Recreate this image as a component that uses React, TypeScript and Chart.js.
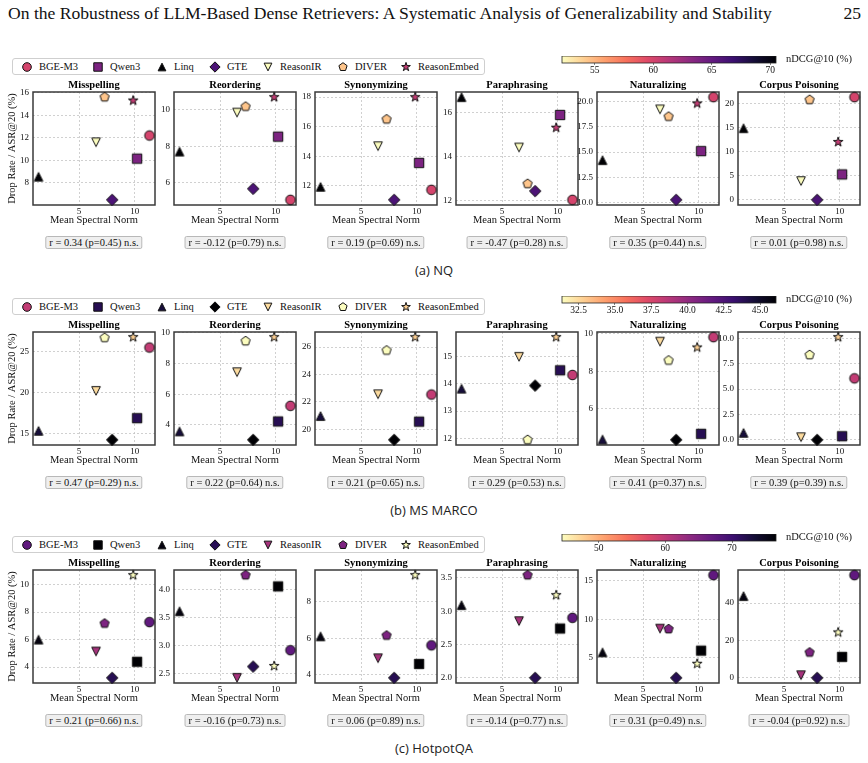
import React, { useEffect, useRef } from "react";
import { Chart, registerables } from "chart.js";
Chart.register(...registerables);

const SERIF = '"Liberation Serif", "Times New Roman", Times, serif';
const SANS = '"Open Sans", "DejaVu Sans", sans-serif';

// ---------------- data ----------------
const models = ["BGE-M3", "Qwen3", "Linq", "GTE", "ReasonIR", "DIVER", "ReasonEmbed"];
const perturbations = ["Misspelling", "Reordering", "Synonymizing", "Paraphrasing", "Naturalizing", "Corpus Poisoning"];
const meanSpectralNorm = [11.31, 10.2, 1.37, 7.97, 6.52, 7.29, 9.85];
const spectralTicks = [5, 10];

// (a) NQ
const nqNdcg = [60.0, 63.9, 70.5, 66.1, 52.2, 54.4, 60.8];
const nqMisspelling = [12.2, 10.15, 8.55, 6.5, 11.6, 15.6, 15.3];
const nqReordering = [5.06, 8.53, 7.71, 5.67, 9.85, 10.18, 10.7];
const nqSynonymizing = [11.73, 13.55, 11.93, 11.05, 14.68, 16.5, 18.0];
const nqParaphrasing = [12.03, 15.89, 16.7, 12.43, 14.41, 12.76, 15.31];
const nqNaturalizing = [20.46, 15.1, 14.2, 10.26, 19.24, 18.53, 19.83];
const nqCorpusPoisoning = [21.31, 5.28, 14.86, 0.0, 3.89, 20.76, 12.0];
const nqYTicks = [[8, 10, 12, 14, 16], [6, 8, 10], [12, 14, 16, 18], [12, 14, 16], [10, 12.5, 15, 17.5, 20], [0, 5, 10, 15, 20]];
const nqR = [0.34, -0.12, 0.19, -0.47, 0.35, 0.01];
const nqP = [0.45, 0.79, 0.69, 0.28, 0.44, 0.98];
const nqColorTicks = [55, 60, 65, 70];

// (b) MS MARCO
const msNdcg = [38.3, 43.9, 44.5, 46.1, 32.4, 31.35, 32.8];
const msMisspelling = [25.53, 16.85, 15.29, 14.18, 20.2, 26.73, 26.81];
const msReordering = [5.24, 4.22, 3.57, 3.02, 7.43, 9.46, 9.72];
const msSynonymizing = [22.54, 20.56, 20.97, 19.23, 22.56, 25.76, 26.73];
const msParaphrasing = [14.32, 14.49, 13.82, 13.93, 14.98, 11.95, 15.7];
const msNaturalizing = [9.82, 4.67, 4.37, 4.35, 9.58, 8.58, 9.27];
const msCorpusPoisoning = [6.05, 0.36, 0.69, 0.0, 0.26, 8.35, 10.1];
const msYTicks = [[15, 20, 25], [4, 6, 8, 10], [20, 22, 24, 26], [12, 13, 14, 15], [6, 8, 10], [0, 2.5, 5, 7.5, 10]];
const msR = [0.47, 0.22, 0.21, 0.29, 0.41, 0.39];
const msP = [0.29, 0.64, 0.65, 0.53, 0.37, 0.39];
const msColorTicks = [32.5, 35, 37.5, 40, 42.5, 45];

// (c) HotpotQA
const hpNdcg = [67.3, 76.6, 75.8, 71.8, 61.8, 65.0, 44.5];
const hpMisspelling = [7.27, 4.39, 6.0, 3.22, 5.13, 7.17, 10.68];
const hpReordering = [2.92, 4.05, 3.61, 2.63, 2.43, 4.25, 2.64];
const hpSynonymizing = [5.62, 4.6, 6.11, 3.84, 4.91, 6.16, 9.46];
const hpParaphrasing = [2.9, 2.74, 3.09, 2.0, 2.85, 3.54, 3.24];
const hpNaturalizing = [15.74, 5.92, 5.7, 2.38, 8.78, 8.73, 4.21];
const hpCorpusPoisoning = [54.9, 11.2, 43.7, 0.0, 1.4, 13.6, 24.3];
const hpYTicks = [[4, 6, 8, 10], [2.5, 3, 3.5, 4], [4, 6, 8], [2, 2.5, 3, 3.5], [5, 10, 15], [0, 20, 40]];
const hpR = [0.21, -0.16, 0.06, -0.14, 0.31, -0.04];
const hpP = [0.66, 0.73, 0.89, 0.77, 0.49, 0.92];
const hpColorTicks = [50, 60, 70];

type RowData = {
  caption: string;
  ndcg: number[];
  drops: number[][];
  yTicks: number[][];
  r: number[];
  p: number[];
  cbTicks: number[];
};

const ROWS: RowData[] = [
  {
    caption: "(a) NQ", ndcg: nqNdcg,
    drops: [nqMisspelling, nqReordering, nqSynonymizing, nqParaphrasing, nqNaturalizing, nqCorpusPoisoning],
    yTicks: nqYTicks, r: nqR, p: nqP, cbTicks: nqColorTicks,
  },
  {
    caption: "(b) MS MARCO", ndcg: msNdcg,
    drops: [msMisspelling, msReordering, msSynonymizing, msParaphrasing, msNaturalizing, msCorpusPoisoning],
    yTicks: msYTicks, r: msR, p: msP, cbTicks: msColorTicks,
  },
  {
    caption: "(c) HotpotQA", ndcg: hpNdcg,
    drops: [hpMisspelling, hpReordering, hpSynonymizing, hpParaphrasing, hpNaturalizing, hpCorpusPoisoning],
    yTicks: hpYTicks, r: hpR, p: hpP, cbTicks: hpColorTicks,
  },
];

// ---------------- layout / style ----------------
const PLOT_LEFTS = [33, 174, 315, 456, 597, 738];
const PLOT_W = 122;
const ROW_TOPS = [92, 332, 570];
const PLOT_H = 113;
const Y_AXIS_W = 30;
const RIGHT_PAD = 8;
const TITLE_H = 16;
const XAXIS_H = 23;
const LEGEND_MARKER_X = [27, 98, 162, 215, 268, 343, 406];
const MARKER_SHAPES = ["circle", "square", "triUp", "diamond", "triDown", "pentagon", "star"];
const CB_LEFT = 562;
const CB_W = 214;

const MAGMA = ["#000004", "#140e36", "#3b0f70", "#641a80", "#8c2981", "#b73779", "#de4968", "#f7705c", "#fe9f6d", "#fecf92", "#fcfdbf"];
function hexRgb(h: string) {
  return [parseInt(h.slice(1, 3), 16), parseInt(h.slice(3, 5), 16), parseInt(h.slice(5, 7), 16)];
}
function magma(t: number): string {
  t = Math.max(0, Math.min(1, t));
  const p = t * (MAGMA.length - 1);
  const i = Math.min(Math.floor(p), MAGMA.length - 2);
  const f = p - i;
  const a = hexRgb(MAGMA[i]);
  const b = hexRgb(MAGMA[i + 1]);
  const c = a.map((v, k) => Math.round(v + (b[k] - v) * f));
  return `rgb(${c[0]},${c[1]},${c[2]})`;
}
function colorFor(v: number, vals: number[]) {
  const lo = Math.min(...vals);
  const hi = Math.max(...vals);
  return magma(1 - (v - lo) / (hi - lo));
}

function tracePath(ctx: CanvasRenderingContext2D, shape: string, cx: number, cy: number, k: number) {
  ctx.beginPath();
  if (shape === "circle") {
    ctx.arc(cx, cy, 4.8 * k, 0, Math.PI * 2);
  } else if (shape === "square") {
    const h = 4.7 * k;
    ctx.rect(cx - h, cy - h, 2 * h, 2 * h);
  } else if (shape === "triUp") {
    const h = 4.3 * k;
    ctx.moveTo(cx, cy - h); ctx.lineTo(cx + h, cy + h); ctx.lineTo(cx - h, cy + h); ctx.closePath();
  } else if (shape === "triDown") {
    const h = 4.3 * k;
    ctx.moveTo(cx, cy + h); ctx.lineTo(cx + h, cy - h); ctx.lineTo(cx - h, cy - h); ctx.closePath();
  } else if (shape === "diamond") {
    const h = 5.7 * k;
    ctx.moveTo(cx, cy - h); ctx.lineTo(cx + h, cy); ctx.lineTo(cx, cy + h); ctx.lineTo(cx - h, cy); ctx.closePath();
  } else if (shape === "pentagon") {
    const r = 4.8 * k;
    for (let j = 0; j < 5; j++) {
      const a = -Math.PI / 2 + (j * 2 * Math.PI) / 5;
      const x = cx + r * Math.cos(a), y = cy + r * Math.sin(a);
      if (j === 0) ctx.moveTo(x, y); else ctx.lineTo(x, y);
    }
    ctx.closePath();
  } else if (shape === "star") {
    const R = 5.1 * k, r = R * 0.382;
    for (let j = 0; j < 10; j++) {
      const a = -Math.PI / 2 + (j * Math.PI) / 5;
      const rr = j % 2 ? r : R;
      const x = cx + rr * Math.cos(a), y = cy + rr * Math.sin(a);
      if (j === 0) ctx.moveTo(x, y); else ctx.lineTo(x, y);
    }
    ctx.closePath();
  }
}

const markerCache: Record<string, HTMLCanvasElement> = {};
function makeMarker(shape: string, fill: string, k = 1): HTMLCanvasElement {
  const key = shape + fill + k;
  if (markerCache[key]) return markerCache[key];
  const S = 16;
  const c = document.createElement("canvas");
  c.width = S; c.height = S;
  const ctx = c.getContext("2d")!;
  tracePath(ctx, shape, S / 2, S / 2, k);
  ctx.fillStyle = fill;
  ctx.fill();
  ctx.lineWidth = 1;
  ctx.strokeStyle = "#111";
  ctx.stroke();
  markerCache[key] = c;
  return c;
}

function fmtTicks(ticks: number[]) {
  const dec = ticks.some((t) => !Number.isInteger(t)) ? 1 : 0;
  return (v: number | string) => Number(v).toFixed(dec);
}

function padRange(vals: number[]) {
  const lo = Math.min(...vals), hi = Math.max(...vals);
  const pad = (hi - lo) * 0.05;
  return [lo - pad, hi + pad];
}

const boxPlugin = {
  id: "panelBox",
  beforeDatasetsDraw(chart: any) {
    const { ctx, chartArea: a } = chart;
    ctx.save();
    ctx.strokeStyle = "#3a3a3a";
    ctx.lineWidth = 1.5;
    ctx.strokeRect(a.left, a.top, a.right - a.left, a.bottom - a.top);
    ctx.restore();
  },
};

const gradientPlugin = {
  id: "cbGradient",
  beforeDatasetsDraw(chart: any) {
    const { ctx, chartArea: a } = chart;
    const g = ctx.createLinearGradient(a.left, 0, a.right, 0);
    for (let i = 0; i <= 40; i++) g.addColorStop(i / 40, magma(1 - i / 40));
    ctx.save();
    ctx.fillStyle = g;
    ctx.fillRect(a.left, a.top, a.right - a.left, a.bottom - a.top);
    ctx.strokeStyle = "#222";
    ctx.lineWidth = 0.8;
    ctx.strokeRect(a.left, a.top, a.right - a.left, a.bottom - a.top);
    ctx.restore();
  },
};

function Panel({ row, ri, col }: { row: RowData; ri: number; col: number }) {
  const ref = useRef<HTMLCanvasElement>(null);
  const plotLeft = PLOT_LEFTS[col];
  const plotTop = ROW_TOPS[ri];
  const yw = col === 0 ? plotLeft : Y_AXIS_W;
  const cw = yw + PLOT_W + RIGHT_PAD;
  const ch = TITLE_H + PLOT_H + XAXIS_H;
  useEffect(() => {
    const drops = row.drops[col];
    const yt = row.yTicks[col];
    const [xmin, xmax] = padRange(meanSpectralNorm);
    const [ymin, ymax] = padRange(drops);
    const tickFont = { family: SERIF, size: 9 };
    const chart = new Chart(ref.current!, {
      type: "scatter",
      data: {
        datasets: models.map((m, i) => ({
          label: m,
          data: [{ x: meanSpectralNorm[i], y: drops[i] }],
          pointStyle: makeMarker(MARKER_SHAPES[i], colorFor(row.ndcg[i], row.ndcg)),
          pointRadius: 5,
          order: models.length - i,
          clip: false,
        })),
      },
      options: {
        animation: false,
        responsive: false,
        events: [],
        layout: { padding: { left: 0, right: RIGHT_PAD, top: 0, bottom: 0 } },
        plugins: {
          legend: { display: false },
          tooltip: { enabled: false },
          title: {
            display: true,
            text: perturbations[col],
            fullSize: false,
            color: "#000",
            font: { family: SERIF, size: 10.5, weight: "bold" },
            padding: { top: 3, bottom: 0.4 },
          },
        },
        scales: {
          x: {
            type: "linear",
            min: xmin,
            max: xmax,
            afterBuildTicks: (s: any) => { s.ticks = spectralTicks.map((v) => ({ value: v })); },
            afterFit: (s: any) => { s.height = XAXIS_H; },
            ticks: { font: tickFont, color: "#111", padding: 1, maxRotation: 0, autoSkip: false },
            grid: { color: "#c4c4c4", lineWidth: 0.8, drawTicks: false },
            border: { display: false, dash: [2, 2] },
            title: {
              display: true, text: "Mean Spectral Norm", color: "#111",
              font: { family: SERIF, size: 10.5 }, padding: { top: 0, bottom: 1 },
            },
          },
          y: {
            type: "linear",
            min: ymin,
            max: ymax,
            afterBuildTicks: (s: any) => { s.ticks = yt.map((v) => ({ value: v })); },
            afterFit: (s: any) => { s.width = yw; },
            ticks: { font: tickFont, color: "#111", padding: 4, autoSkip: false, callback: fmtTicks(yt) },
            grid: { color: "#c4c4c4", lineWidth: 0.8, drawTicks: false },
            border: { display: false, dash: [2, 2] },
            title: {
              display: col === 0, text: "Drop Rate / ASR@20 (%)", color: "#111",
              font: { family: SERIF, size: 10.5 }, padding: { top: 6, bottom: 0 },
            },
          },
        },
      } as any,
      plugins: [boxPlugin],
    });
    return () => chart.destroy();
  }, []);
  return (
    <canvas
      ref={ref}
      width={cw}
      height={ch}
      style={{ position: "absolute", left: plotLeft - yw, top: plotTop - TITLE_H, width: cw, height: ch }}
    />
  );
}

function ColorBar({ row, ri }: { row: RowData; ri: number }) {
  const ref = useRef<HTMLCanvasElement>(null);
  const padL = 20, padR = 20, barH = 7, axH = 16;
  const cw = CB_W + padL + padR;
  const ch = barH + axH;
  useEffect(() => {
    const lo = Math.min(...row.ndcg), hi = Math.max(...row.ndcg);
    const chart = new Chart(ref.current!, {
      type: "scatter",
      data: { datasets: [] },
      options: {
        animation: false,
        responsive: false,
        events: [],
        layout: { padding: { left: padL, right: padR, top: 0, bottom: 0 } },
        plugins: { legend: { display: false }, tooltip: { enabled: false } },
        scales: {
          x: {
            type: "linear", min: lo, max: hi,
            afterBuildTicks: (s: any) => { s.ticks = row.cbTicks.map((v) => ({ value: v })); },
            afterFit: (s: any) => { s.height = axH; },
            ticks: { font: { family: SERIF, size: 9.5 }, color: "#111", padding: 0, maxRotation: 0, autoSkip: false, callback: fmtTicks(row.cbTicks) },
            grid: { display: true, drawOnChartArea: false, drawTicks: true, tickLength: 2, color: "#333", lineWidth: 0.6 },
            border: { display: false },
          },
          y: { display: false, min: 0, max: 1 },
        },
      } as any,
      plugins: [gradientPlugin],
    });
    return () => chart.destroy();
  }, []);
  const top = ROW_TOPS[ri] - 36;
  return (
    <>
      <canvas ref={ref} width={cw} height={ch}
        style={{ position: "absolute", left: CB_LEFT - padL, top, width: cw, height: ch }} />
      <div style={{
        position: "absolute", left: 786, top: ROW_TOPS[ri] - 39, fontFamily: SERIF, fontSize: 10.5,
        lineHeight: "12px", color: "#111", whiteSpace: "nowrap",
      }}>nDCG@10 (%)</div>
    </>
  );
}

function Legend({ row, ri }: { row: RowData; ri: number }) {
  const top = ROW_TOPS[ri] - 34;
  return (
    <div style={{
      position: "absolute", left: 12, top, width: 473, height: 17, boxSizing: "border-box",
      border: "1px solid #cfcfcf", borderRadius: 3, background: "#fff",
    }}>
      {models.map((m, i) => {
        const src = makeMarker(MARKER_SHAPES[i], colorFor(row.ndcg[i], row.ndcg), 0.9).toDataURL();
        const x = LEGEND_MARKER_X[i] - 12 - 1;
        return (
          <div key={m} style={{ position: "absolute", left: x - 8, top: -1, height: 17, display: "flex", alignItems: "center" }}>
            <img src={src} width={16} height={16} style={{ display: "block" }} />
            <span style={{ marginLeft: 4, fontFamily: SERIF, fontSize: 10.5, color: "#111", whiteSpace: "nowrap" }}>{m}</span>
          </div>
        );
      })}
    </div>
  );
}

function RBox({ row, ri, col }: { row: RowData; ri: number; col: number }) {
  const r = row.r[col], p = row.p[col];
  return (
    <div style={{
      position: "absolute", left: PLOT_LEFTS[col] + PLOT_W / 2, top: ROW_TOPS[ri] + 143.5,
      transform: "translateX(-50%)", fontFamily: SERIF, fontSize: 10.5, lineHeight: "11px",
      color: "#111", background: "#efefef", border: "1px solid #b8b8b8", borderRadius: 2,
      padding: "0 3px", whiteSpace: "nowrap",
    }}>
      {`r = ${r.toFixed(2)} (p=${p.toFixed(2)}) n.s.`}
    </div>
  );
}

function Row({ row, ri }: { row: RowData; ri: number }) {
  return (
    <>
      <Legend row={row} ri={ri} />
      <ColorBar row={row} ri={ri} />
      {perturbations.map((_, c) => <Panel key={"p" + c} row={row} ri={ri} col={c} />)}
      {perturbations.map((_, c) => <RBox key={"r" + c} row={row} ri={ri} col={c} />)}
      <div style={{
        position: "absolute", left: 0, width: 868, textAlign: "center", top: ROW_TOPS[ri] + 170,
        fontFamily: SANS, fontSize: 13, lineHeight: "16px", color: "#222",
      }}>{row.caption}</div>
    </>
  );
}

export default function App() {
  return (
    <div style={{ position: "absolute", left: 0, top: 0, width: 868, height: 763, background: "#fff", overflow: "hidden" }}>
      <div style={{
        position: "absolute", left: 8, top: 4, fontFamily: SERIF, fontSize: 17.6, lineHeight: "18px",
        color: "#111", whiteSpace: "nowrap",
      }}>
        On the Robustness of LLM-Based Dense Retrievers: A Systematic Analysis of Generalizability and Stability
      </div>
      <div style={{
        position: "absolute", right: 7, top: 4, fontFamily: SERIF, fontSize: 17.6, lineHeight: "18px", color: "#111",
      }}>25</div>
      {ROWS.map((row, ri) => <Row key={ri} row={row} ri={ri} />)}
    </div>
  );
}
